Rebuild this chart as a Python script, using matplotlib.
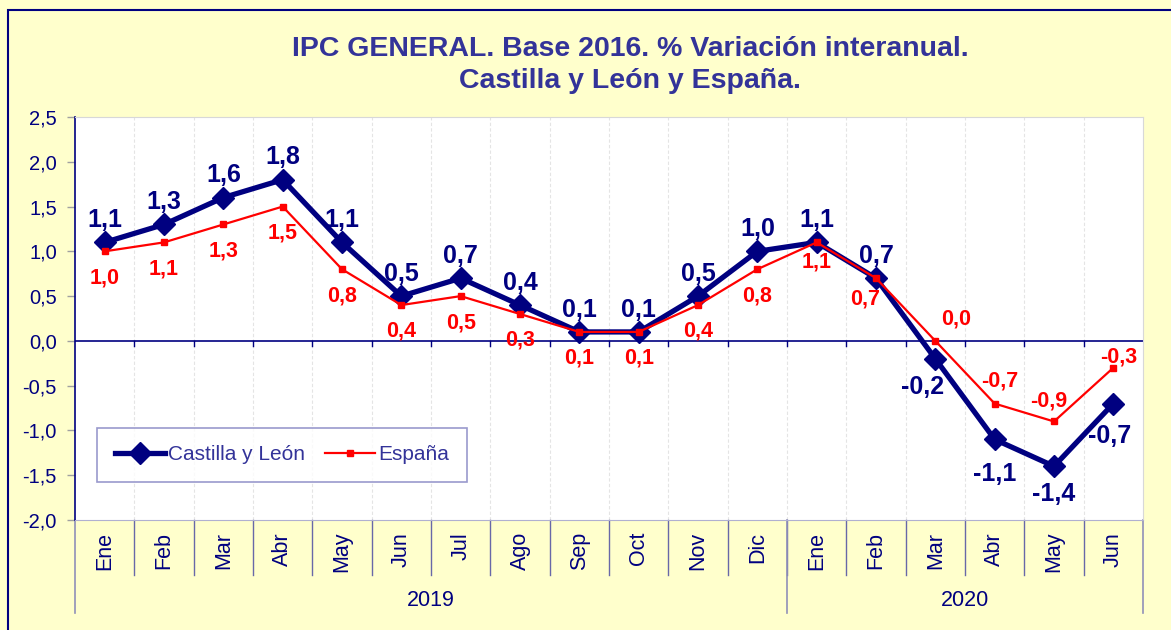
import matplotlib
matplotlib.use("Agg")
import matplotlib.pyplot as plt
from matplotlib.patches import Rectangle

# IPC general, % variación interanual (base 2016)
months = ["Ene", "Feb", "Mar", "Abr", "May", "Jun", "Jul", "Ago", "Sep", "Oct", "Nov", "Dic",
          "Ene", "Feb", "Mar", "Abr", "May", "Jun"]
years = ["2019", "2020"]
year_sizes = [12, 6]
cyl = [1.1, 1.3, 1.6, 1.8, 1.1, 0.5, 0.7, 0.4, 0.1, 0.1, 0.5, 1.0, 1.1, 0.7, -0.2, -1.1, -1.4, -0.7]
esp = [1.0, 1.1, 1.3, 1.5, 0.8, 0.4, 0.5, 0.3, 0.1, 0.1, 0.4, 0.8, 1.1, 0.7, 0.0, -0.7, -0.9, -0.3]

NAVY = "#000080"
TITLE_C = "#333399"
RED = "#FF0000"
BG = "#FFFFCC"

plt.rcParams["font.family"] = ["Liberation Sans", "DejaVu Sans"]

fig = plt.figure(figsize=(11.71, 6.30), dpi=100)
fig.patch.set_facecolor(BG)
fig.patches.append(Rectangle((8 / 1171, -0.1), 1.2, 1.1 - 10 / 630, transform=fig.transFigure,
                             fill=False, edgecolor=NAVY, linewidth=1.5))

ax = fig.add_axes([75 / 1171, 110 / 630, 1068 / 1171, 403 / 630])
ax.set_facecolor("white")

x = list(range(len(months)))
ax.plot(x, cyl, color=NAVY, lw=3.8, marker="D", ms=11, label="Castilla y León", zorder=3)
ax.plot(x, esp, color=RED, lw=1.6, marker="s", ms=5, label="España", zorder=4)

ax.set_xlim(-0.5, len(months) - 0.5)
ax.set_ylim(-2.0, 2.5)
ax.set_yticks([-2.0, -1.5, -1.0, -0.5, 0.0, 0.5, 1.0, 1.5, 2.0, 2.5])
ax.set_yticklabels([f"{v:.1f}".replace(".", ",") for v in ax.get_yticks()])
ax.tick_params(axis="y", colors="#A0A0A0", labelcolor=NAVY, labelsize=14.5, length=6, width=1, pad=7)
ax.set_xticks([])

for s in ["top", "right"]:
    ax.spines[s].set_color("#D8D8D8")
ax.spines["bottom"].set_color("#B0B0D0")
ax.spines["left"].set_color(NAVY)
ax.spines["left"].set_linewidth(1.2)

# zero line and its ticks, faint vertical separators
ax.axhline(0, color=NAVY, lw=1.2, zorder=2)
for b in [i + 0.5 for i in x[:-1]]:
    ax.axvline(b, color="#E4E4E4", lw=0.8, ls=(0, (3, 2)), zorder=1)
    ax.plot([b, b], [0, -0.06], color=NAVY, lw=1, zorder=2)

# value labels
fmt = lambda v: f"{v:.1f}".replace(".", ",").replace("-0,0", "0,0")
cyl_off = {14: (-9, -20), 15: (0, -25), 16: (0, -20), 17: (-3, -23)}
esp_off = {12: (0, -14), 13: (-8, -15), 14: (15, 16), 15: (4, 16), 16: (-4, 15), 17: (4, 8)}
for i, v in enumerate(cyl):
    ax.annotate(fmt(v), (i, v), xytext=cyl_off.get(i, (0, 16)), textcoords="offset points",
                ha="center", va="center", color=NAVY, fontsize=18, fontweight="bold", zorder=5)
for i, v in enumerate(esp):
    ax.annotate(fmt(v), (i, v), xytext=esp_off.get(i, (0, -19)), textcoords="offset points",
                ha="center", va="center", color=RED, fontsize=15.5, fontweight="bold", zorder=5)

# grouped category axis
tr = ax.get_xaxis_transform()
h = 403
for i, m in enumerate(months):
    ax.text(i, -12 / h, m, transform=tr, rotation=90, ha="center", va="top",
            color=NAVY, fontsize=15.5)
for b in [i + 0.5 for i in x[:-1]]:
    ax.plot([b, b], [0, -55 / h], transform=tr, color="#6868A8", lw=1, clip_on=False)
start = -0.5
for y, n in zip(years, year_sizes):
    ax.plot([start, start], [0, -93 / h], transform=tr, color="#9090B8", lw=1.2, clip_on=False)
    ax.text(start + n / 2, -80 / h, y, transform=tr, ha="center", va="center",
            color=NAVY, fontsize=15.5)
    start += n
ax.plot([start, start], [0, -93 / h], transform=tr, color="#9090B8", lw=1.2, clip_on=False)

leg = ax.legend(loc="lower left", bbox_to_anchor=(0.0206, 0.094, 0.3464, 0.129), mode="expand",
                borderaxespad=0, ncol=2, fontsize=15, frameon=True, fancybox=False,
                handlelength=2.4, handletextpad=0.15, columnspacing=1.5, borderpad=0.85)
leg.get_frame().set_edgecolor("#8080C0")
leg.get_frame().set_linewidth(1.2)
for t in leg.get_texts():
    t.set_color(TITLE_C)

fig.text(630 / 1171, 1 - 65 / 630, "IPC GENERAL. Base 2016. % Variación interanual.\nCastilla y León y España.",
         ha="center", va="center", color=TITLE_C, fontsize=20.5, fontweight="bold", linespacing=1.3)

fig.savefig("out.png", dpi=100, facecolor=BG)
